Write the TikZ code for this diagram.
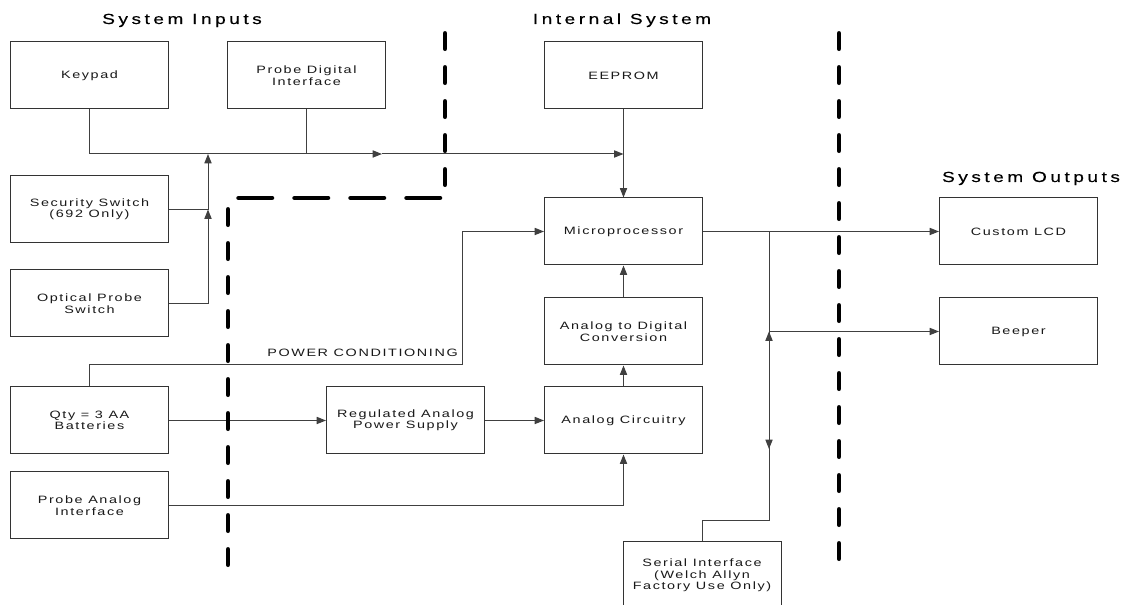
\documentclass[tikz,border=0pt]{standalone}
\usepackage{fontspec}
\newfontfamily\boxfont[FakeStretch=1.35,LetterSpace=15]{Liberation Sans}
\newfontfamily\titlefont[FakeStretch=1.3,LetterSpace=24,FakeBold=0.3]{Liberation Sans}
\usetikzlibrary{arrows.meta}
\begin{document}
\begin{tikzpicture}[x=0.75pt,y=-0.75pt,
  blk/.style={draw=black!80, line width=0.75pt, minimum width=118.5pt, minimum height=50.25pt,
    inner sep=0pt, align=center, font=\boxfont\fontsize{8pt}{8.6pt}\selectfont, text=black!90},
  wire/.style={draw=black!75, line width=0.75pt},
  arr/.style={wire, -{Triangle[length=7pt,width=5.4pt]}},
  ttl/.style={font=\titlefont\fontsize{11pt}{12pt}\selectfont, inner sep=0pt},
  lbl/.style={font=\boxfont\fontsize{8pt}{8.6pt}\selectfont, text=black!90, inner sep=0pt},
  bndv/.style={line width=3.4pt, line cap=round, dash pattern=on 11.6pt off 13.9pt},
  bndh/.style={line width=3.4pt, line cap=round, dash pattern=on 25.1pt off 16.9pt},
]
\useasboundingbox (0,0) rectangle (1133,605);
\fill[white] (0,0) rectangle (1133,605);

% titles
\node[ttl, anchor=base] (t1) at (182,24) {System Inputs};
\node[ttl, anchor=base] (t2) at (622,24) {Internal System};
\node[ttl, anchor=base] (t3) at (1031,182) {System Outputs};

% blocks
\node[blk] (kp)  at (89.5,75.5)  {Keypad};
\node[blk] (pd)  at (306.5,75.5) {Probe Digital\\Interface};
\node[blk] (ee)  at (623.5,75.5) {EEPROM};
\node[blk] (sec) at (89.5,209.5) {Security Switch\\(692 Only)};
\node[blk] (opt) at (89.5,303.5) {Optical Probe\\Switch};
\node[blk] (qty) at (89.5,420.5) {Qty = 3 AA\\Batteries};
\node[blk] (pa)  at (89.5,505.5) {Probe Analog\\Interface};
\node[blk] (reg) at (405.5,420.5) {Regulated Analog\\Power Supply};
\node[blk] (mp)  at (623.5,231.5) {Microprocessor};
\node[blk] (adc) at (623.5,331.5) {Analog to Digital\\Conversion};
\node[blk] (ac)  at (623.5,420.5) {Analog Circuitry};
\node[blk] (ser) at (702,575.5)   {Serial Interface\\(Welch Allyn\\Factory Use Only)};
\node[blk] (lcd) at (1018.5,231.5) {Custom LCD};
\node[blk] (bp)  at (1018.5,331.5) {Beeper};

% junction coordinates
\coordinate (jbus) at (208,154);
\coordinate (jsec) at (208,209.5);
\coordinate (jpd)  at (306.5,154);
\coordinate (jmid) at (382,154);
\coordinate (jee)  at (623.5,154);
\coordinate (pc)   at (462,365);
\coordinate (jo)   at (769,231.5);
\coordinate (jbp)  at (769,331.5);
\coordinate (jdn)  at (769,449);
\coordinate (jser) at (769,521);

% input bus
\draw[wire] (kp.south) |- (jpd);
\draw[wire] (pd.south) -- (jpd);
\draw[arr] (jpd) -- (jmid);
\draw[arr] (jmid) -- (jee);
\draw[arr] (opt.east) -| (jsec);
\draw[arr] (sec.east) -- (jsec) -- (jbus);
\draw[arr] (ee.south) -- (mp.north);

% power
\draw[arr] (qty.north) |- (pc) |- (mp.west);
\node[lbl, anchor=base east] (pcl) at (458,357) {POWER CONDITIONING};
\draw[arr] (qty.east) -- (reg.west);
\draw[arr] (reg.east) -- (ac.west);
\draw[arr] (pa.east) -| (ac.south);
\draw[arr] (ac.north) -- (adc.south);
\draw[arr] (adc.north) -- (mp.south);

% outputs
\draw[arr] (mp.east) -- (lcd.west);
\draw[arr] (jo) -- (jdn);
\draw[arr] (ser.north) |- (jser) -- (jbp);
\draw[arr] (jbp) -- (bp.west);

% boundaries
\draw[bndv] (445,33.3) -- (445,190);
\draw[bndh] (440,198) -- (232,198);
\draw[bndv] (228,209.3) -- (228,570);
\draw[bndv] (839,33.3) -- (839,563);
\end{tikzpicture}
\end{document}
